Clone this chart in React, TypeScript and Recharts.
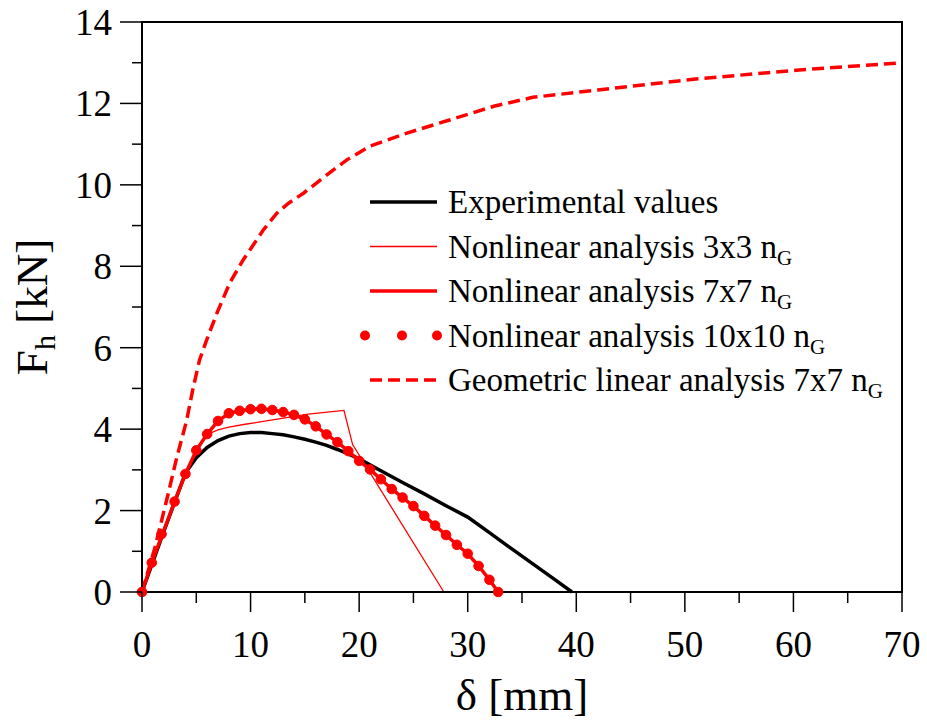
import { LineChart, Line, XAxis, YAxis, ReferenceArea, Legend } from 'recharts'

const FONT = 'Liberation Serif'
const RED = '#ff0000'

// displacement δ [mm] and force F_h [kN]
const expX = [0, 1, 2, 3, 4, 5, 6, 7, 8, 9, 10, 11, 12, 13, 14, 15, 16, 17, 18, 19, 20, 22, 24, 26, 28, 30, 32, 34, 36, 38, 39.6]
const expY = [0, 0.74, 1.48, 2.2, 2.92, 3.3, 3.55, 3.72, 3.83, 3.89, 3.92, 3.92, 3.89, 3.86, 3.81, 3.75, 3.68, 3.6, 3.5, 3.39, 3.27, 2.98, 2.69, 2.41, 2.12, 1.84, 1.46, 1.07, 0.69, 0.31, 0]

const nl3X = [0, 1, 2, 3, 4, 5, 6, 7, 8, 9.5, 12.6, 15.3, 18.6, 19.4, 27.8]
const nl3Y = [0, 0.8, 1.5, 2.22, 2.9, 3.45, 3.87, 3.98, 4.05, 4.12, 4.25, 4.37, 4.46, 3.62, 0]

const nl7X = [0, 1, 2, 3, 4, 5, 6, 7, 8, 9, 10, 11, 12, 13, 14, 15, 16, 17, 18, 19, 20, 21, 22, 23, 24, 25, 26, 27, 28, 29, 30, 31, 32, 32.8]
const nl7Y = [0, 0.8, 1.5, 2.22, 2.9, 3.48, 3.88, 4.2, 4.39, 4.45, 4.49, 4.5, 4.47, 4.42, 4.35, 4.24, 4.07, 3.87, 3.68, 3.46, 3.22, 3.01, 2.77, 2.53, 2.32, 2.11, 1.87, 1.63, 1.4, 1.16, 0.94, 0.64, 0.3, 0]

const nl10X = [0, 0.9, 1.8, 3, 4, 5, 6, 7, 8, 9, 10, 11, 12, 13, 14, 15, 16, 17, 18, 19, 20, 21, 22, 23, 24, 25, 26, 27, 28, 29, 30, 31, 32, 32.8]
const nl10Y = [0, 0.72, 1.42, 2.22, 2.9, 3.48, 3.88, 4.2, 4.39, 4.45, 4.49, 4.5, 4.47, 4.42, 4.35, 4.24, 4.07, 3.87, 3.68, 3.46, 3.22, 3.01, 2.77, 2.53, 2.32, 2.11, 1.87, 1.63, 1.4, 1.16, 0.94, 0.64, 0.3, 0]

const geoX = [0, 1.2, 2.4, 3.2, 4.1, 4.7, 5.3, 5.9, 6.9, 8.1, 9.3, 11.2, 12.4, 13.5, 14.9, 17.3, 18.9, 21, 24.4, 28.4, 32.4, 36, 42, 51, 60.5, 70]
const geoY = [0, 1.1, 2.4, 3.3, 4.2, 5.0, 5.7, 6.15, 6.85, 7.6, 8.15, 8.9, 9.3, 9.55, 9.8, 10.3, 10.62, 10.95, 11.27, 11.6, 11.93, 12.15, 12.33, 12.6, 12.82, 13.0]

const xTicks = [0, 5, 10, 15, 20, 25, 30, 35, 40, 45, 50, 55, 60, 65, 70]
const yTicks = [0, 1, 2, 3, 4, 5, 6, 7, 8, 9, 10, 11, 12, 13, 14]

const pts = (xs: number[], ys: number[]) => xs.map((x, i) => ({ x, y: ys[i] }))

function XTick(props: any) {
  const { x, y, payload } = props
  const major = payload.value % 10 === 0
  return (
    <g>
      <line x1={x} x2={x} y1={y} y2={y + (major ? 20 : 11)} stroke="#000" strokeWidth={1.5} />
      {major && (
        <text x={x} y={y + 65} textAnchor="middle" fontSize={37} fontFamily={FONT} fill="#000">
          {payload.value}
        </text>
      )}
    </g>
  )
}

function YTick(props: any) {
  const { x, y, payload } = props
  const major = payload.value % 2 === 0
  return (
    <g>
      <line x1={x - (major ? 22 : 10)} x2={x} y1={y} y2={y} stroke="#000" strokeWidth={1.5} />
      {major && (
        <text x={x - 30} y={y + 13} textAnchor="end" fontSize={37} fontFamily={FONT} fill="#000">
          {payload.value}
        </text>
      )}
    </g>
  )
}

function XLabel(props: any) {
  const { viewBox } = props
  return (
    <text x={viewBox.x + viewBox.width / 2} y={viewBox.y + 118} textAnchor="middle" fontSize={45} fontFamily={FONT} fill="#000">
      δ [mm]
    </text>
  )
}

function YLabel(props: any) {
  const { viewBox } = props
  const cx = 47
  const cy = viewBox.y + viewBox.height / 2
  return (
    <text x={cx} y={cy} transform={`rotate(-90, ${cx}, ${cy})`} textAnchor="middle" fontSize={45} fontFamily={FONT} fill="#000">
      F<tspan fontSize={30} dy={8}>h</tspan>
      <tspan dy={-8}> [kN]</tspan>
    </text>
  )
}

const legendRows = [
  { label: 'Experimental values', sub: '' },
  { label: 'Nonlinear analysis 3x3 n', sub: 'G' },
  { label: 'Nonlinear analysis 7x7 n', sub: 'G' },
  { label: 'Nonlinear analysis 10x10 n', sub: 'G' },
  { label: 'Geometric linear analysis 7x7 n', sub: 'G' },
]

function LegendBox() {
  const rowY = (i: number) => 22 + i * 44.5
  return (
    <svg width={545} height={230} style={{ display: 'block', overflow: 'visible' }}>
      <line x1={10} x2={77} y1={rowY(0)} y2={rowY(0)} stroke="#000" strokeWidth={3.5} />
      <line x1={10} x2={77} y1={rowY(1)} y2={rowY(1)} stroke={RED} strokeWidth={1.3} />
      <line x1={10} x2={77} y1={rowY(2)} y2={rowY(2)} stroke={RED} strokeWidth={3.5} />
      {[5, 42, 77].map((cx) => (
        <circle key={cx} cx={cx} cy={rowY(3)} r={5} fill={RED} />
      ))}
      <line x1={10} x2={77} y1={rowY(4)} y2={rowY(4)} stroke={RED} strokeWidth={3.5} strokeDasharray="12 6" />
      {legendRows.map((r, i) => (
        <text key={r.label} x={88} y={rowY(i) + 11} fontSize={33} fontFamily={FONT} fill="#000">
          {r.label}
          {r.sub && (
            <tspan fontSize={21} dy={7}>
              {r.sub}
            </tspan>
          )}
        </text>
      ))}
    </svg>
  )
}

export default function App() {
  return (
    <div style={{ position: 'absolute', left: 0, top: 0, width: 927, height: 724, background: '#fff' }}>
      <LineChart width={927} height={724} margin={{ top: 22, right: 25, bottom: 0, left: 0 }}>
        <XAxis
          type="number"
          dataKey="x"
          domain={[0, 70]}
          ticks={xTicks}
          interval={0}
          height={132}
          tickSize={0}
          tickMargin={0}
          tickLine={false}
          axisLine={{ stroke: '#000', strokeWidth: 2 }}
          tick={<XTick />}
          label={<XLabel />}
        />
        <YAxis
          type="number"
          dataKey="y"
          domain={[0, 14]}
          ticks={yTicks}
          interval={0}
          width={142}
          tickSize={0}
          tickMargin={0}
          tickLine={false}
          axisLine={{ stroke: '#000', strokeWidth: 2 }}
          tick={<YTick />}
          label={<YLabel />}
        />
        <ReferenceArea x1={0} x2={70} y1={0} y2={14} fill="none" stroke="#000" strokeWidth={2} />
        <Line data={pts(expX, expY)} dataKey="y" type="linear" stroke="#000" strokeWidth={3.5} dot={false} activeDot={false} isAnimationActive={false} />
        <Line data={pts(geoX, geoY)} dataKey="y" type="linear" stroke={RED} strokeWidth={3.5} strokeDasharray="12 6" dot={false} activeDot={false} isAnimationActive={false} />
        <Line data={pts(nl3X, nl3Y)} dataKey="y" type="linear" stroke={RED} strokeWidth={1.3} dot={false} activeDot={false} isAnimationActive={false} />
        <Line data={pts(nl7X, nl7Y)} dataKey="y" type="linear" stroke={RED} strokeWidth={3.5} dot={false} activeDot={false} isAnimationActive={false} />
        <Line
          data={pts(nl10X, nl10Y)}
          dataKey="y"
          type="linear"
          stroke="none"
          dot={{ r: 4.8, fill: RED, stroke: RED, strokeWidth: 1 }}
          activeDot={false}
          isAnimationActive={false}
        />
        <Legend
          layout="vertical"
          align="center"
          verticalAlign="middle"
          content={() => <LegendBox />}
          wrapperStyle={{ left: 360, top: 180, width: 545, height: 230 }}
        />
      </LineChart>
    </div>
  )
}
